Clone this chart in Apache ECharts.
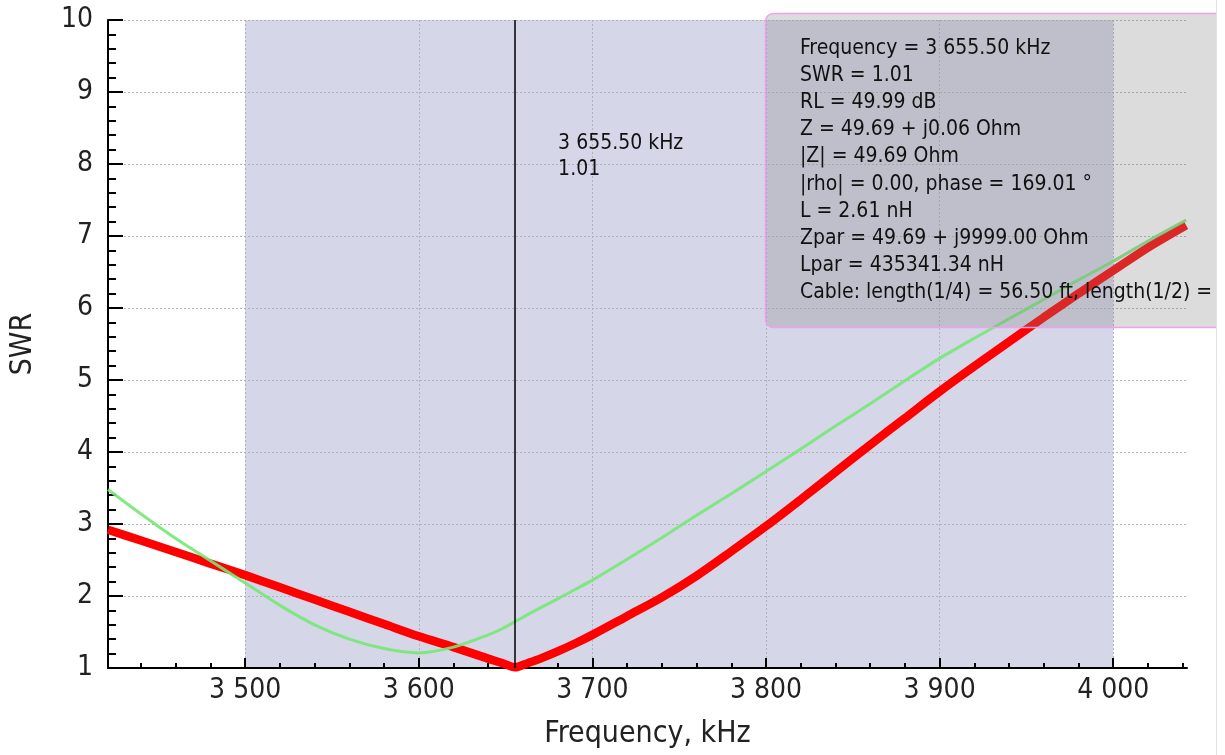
<!DOCTYPE html>
<html><head><meta charset="utf-8">
<script src="https://cdn.jsdelivr.net/npm/echarts@6/dist/echarts.min.js"></script>
<style>html,body{margin:0;padding:0;background:#fff}#c{width:1225px;height:755px}</style>
</head><body><div id="c"></div><script>
const FONT = "'DejaVu Sans Condensed','DejaVu Sans',sans-serif";

const freqKHz = [3421, 3440, 3460, 3480, 3500, 3520, 3540, 3560, 3580, 3600, 3620, 3640, 3648, 3655.5, 3663, 3670, 3680, 3690, 3700, 3720, 3740, 3760, 3780, 3800, 3820, 3840, 3860, 3880, 3900, 3920, 3940, 3960, 3980, 4000, 4020, 4042];
const swrMeasured = [2.92, 2.77, 2.61, 2.45, 2.29, 2.12, 1.95, 1.78, 1.61, 1.44, 1.29, 1.13, 1.07, 1.01, 1.07, 1.13, 1.23, 1.34, 1.46, 1.72, 1.98, 2.28, 2.62, 2.97, 3.34, 3.72, 4.10, 4.47, 4.84, 5.19, 5.53, 5.87, 6.20, 6.52, 6.84, 7.15];
const swrReference = [3.48, 3.14, 2.80, 2.49, 2.18, 1.87, 1.60, 1.40, 1.27, 1.21, 1.29, 1.46, 1.545, 1.645, 1.745, 1.835, 1.96, 2.09, 2.22, 2.51, 2.81, 3.12, 3.42, 3.73, 4.04, 4.36, 4.67, 4.99, 5.30, 5.58, 5.85, 6.12, 6.39, 6.65, 6.93, 7.22];

const xMajorTicks = [3500, 3600, 3700, 3800, 3900, 4000];
const xMinorTicks = [3440, 3460, 3480, 3520, 3540, 3560, 3580, 3620, 3640, 3660, 3680, 3720, 3740, 3760, 3780, 3820, 3840, 3860, 3880, 3920, 3940, 3960, 3980, 4020, 4040];
const bandRange = [3500, 4000];
const markerFreq = 3655.5;
const markerLabel = ['3 655.50 kHz', '1.01'];
const infoLines = [
  'Frequency = 3 655.50 kHz',
  'SWR = 1.01',
  'RL = 49.99 dB',
  'Z = 49.69 + j0.06 Ohm',
  '|Z| = 49.69 Ohm',
  '|rho| = 0.00, phase = 169.01 \u00B0',
  'L = 2.61 nH',
  'Zpar = 49.69 + j9999.00 Ohm',
  'Lpar = 435341.34 nH',
  'Cable: length(1/4) = 56.50 ft, length(1/2) = 113.00 ft'
];

const fmt = v => String(v).replace(/\B(?=(\d{3})+(?!\d))/g, ' ');
const gridLine = {show: true, lineStyle: {color: '#b2b2ba', type: [2, 2], width: 1}};
const black = {color: '#000', width: 2};

const chart = echarts.init(document.getElementById('c'), null, {renderer: 'canvas'});
chart.setOption({
  animation: false,
  grid: {left: 105, right: 38, top: 20, bottom: 87},
  xAxis: [{
    type: 'value', min: 3421, max: 4042.5,
    axisLine: {lineStyle: black},
    axisTick: {inside: true, length: 10, lineStyle: black, customValues: xMajorTicks},
    axisLabel: {customValues: xMajorTicks, formatter: fmt, fontSize: 28, color: '#222', fontFamily: FONT, margin: 9},
    splitLine: gridLine,
    name: 'Frequency, kHz', nameLocation: 'middle', nameGap: 51,
    nameTextStyle: {fontSize: 30, color: '#222', fontFamily: FONT}
  }, {
    type: 'value', min: 3421, max: 4042.5, position: 'bottom',
    axisLine: {show: false}, splitLine: {show: false},
    axisLabel: {show: false, customValues: xMinorTicks},
    axisTick: {inside: true, length: 5, lineStyle: black, customValues: xMinorTicks}
  }],
  yAxis: {
    type: 'value', min: 1, max: 10, interval: 1,
    axisLine: {show: true, lineStyle: black},
    axisTick: {show: true, inside: true, length: 15, lineStyle: black},
    minorTick: {show: true, splitNumber: 5, length: 8, lineStyle: black},
    axisLabel: {fontSize: 28, color: '#222', fontFamily: FONT, margin: 15},
    splitLine: gridLine,
    name: 'SWR', nameLocation: 'middle', nameGap: 70, nameRotate: 90,
    nameTextStyle: {fontSize: 30, color: '#222', fontFamily: FONT}
  },
  series: [{
    type: 'line', data: [], silent: true,
    markArea: {silent: true, z: -1, itemStyle: {color: '#d5d6e8'},
      data: [[{xAxis: bandRange[0]}, {xAxis: bandRange[1]}]]}
  }, {
    name: 'SWR', type: 'line', z: 3,
    data: freqKHz.map((f, i) => [f, swrMeasured[i]]),
    showSymbol: false, smooth: 0.3,
    lineStyle: {color: '#ff0000', width: 8.5},
    markLine: {silent: true, symbol: 'none', label: {show: false},
      lineStyle: {color: '#000', width: 1.5, type: 'solid'},
      data: [{xAxis: markerFreq}]}
  }, {
    name: 'SWR ref', type: 'line', z: 4,
    data: freqKHz.map((f, i) => [f, swrReference[i]]),
    showSymbol: false, smooth: 0.3,
    lineStyle: {color: '#76e876', width: 3, opacity: 0.9}
  }]
});

const p = chart.convertToPixel({gridIndex: 0}, [markerFreq, 10]);
chart.setOption({
  graphic: [
    {type: 'text', z: 10, style: {text: markerLabel.join('\n'), x: p[0] + 43, y: p[1] + 111,
      font: '21px ' + FONT, fill: '#111', lineHeight: 26}},
    {type: 'rect', z: 20, shape: {x: 765.5, y: 13.5, width: 480, height: 314, r: 8},
      style: {fill: 'rgba(133,133,133,0.29)', stroke: '#f0a0f0', lineWidth: 1.5}},
    {type: 'text', z: 21, style: {text: infoLines.join('\n'), x: 800, y: 35,
      font: '21px ' + FONT, fill: '#111', lineHeight: 27.1}},
    {type: 'rect', z: 30, shape: {x: 1217, y: 0, width: 20, height: 755}, style: {fill: '#fff'}},
    {type: 'line', z: 31, shape: {x1: 1216.5, y1: 0, x2: 1216.5, y2: 755}, style: {stroke: '#e2e2e2', lineWidth: 1}}
  ]
});
</script></body></html>
